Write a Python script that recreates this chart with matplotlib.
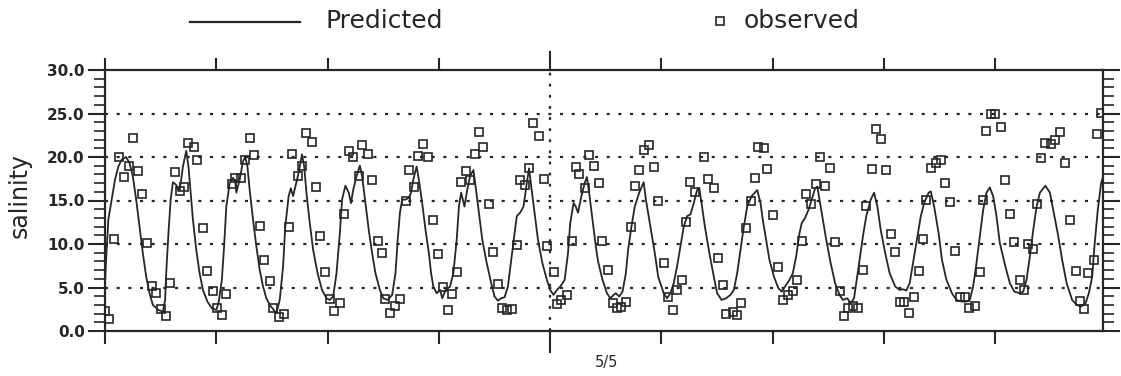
import matplotlib
matplotlib.use("Agg")
import matplotlib.pyplot as plt
from matplotlib.lines import Line2D
from matplotlib.ticker import MultipleLocator

plt.rcParams['lines.scale_dashes'] = False
plt.rcParams['font.family'] = ['DejaVu Sans']

# ---------------- data (x in days from start of record, 5/5 at day 4) -------------
pred_day = [0.00, 0.01, 0.03, 0.06, 0.09, 0.12, 0.15, 0.19, 0.22, 0.25, 0.28, 0.31, 0.34, 0.37, 0.40, 0.43,
            0.48, 0.52, 0.54, 0.55, 0.57, 0.59, 0.61, 0.64, 0.66, 0.68, 0.70, 0.73, 0.75, 0.77, 0.79, 0.82,
            0.85, 0.88, 0.92, 0.96, 1.00, 1.02, 1.05, 1.07, 1.09, 1.12, 1.15, 1.17, 1.18, 1.21, 1.24, 1.26,
            1.28, 1.30, 1.33, 1.36, 1.39, 1.42, 1.45, 1.48, 1.54, 1.57, 1.60, 1.62, 1.65, 1.67, 1.69, 1.71,
            1.74, 1.77, 1.79, 1.81, 1.84, 1.87, 1.91, 1.95, 1.99, 2.02, 2.05, 2.08, 2.11, 2.13, 2.16, 2.19,
            2.21, 2.23, 2.26, 2.29, 2.31, 2.34, 2.37, 2.40, 2.43, 2.47, 2.50, 2.54, 2.58, 2.61, 2.63, 2.65,
            2.67, 2.70, 2.73, 2.75, 2.77, 2.80, 2.82, 2.85, 2.88, 2.91, 2.93, 2.95, 2.98, 3.01, 3.03, 3.06,
            3.10, 3.13, 3.16, 3.18, 3.20, 3.23, 3.25, 3.28, 3.31, 3.33, 3.36, 3.39, 3.43, 3.47, 3.50, 3.53,
            3.56, 3.59, 3.62, 3.65, 3.68, 3.70, 3.73, 3.76, 3.79, 3.81, 3.83, 3.86, 3.89, 3.93, 3.97, 4.00,
            4.03, 4.06, 4.09, 4.13, 4.16, 4.18, 4.21, 4.23, 4.25, 4.28, 4.31, 4.33, 4.35, 4.38, 4.41, 4.43,
            4.47, 4.51, 4.54, 4.57, 4.59, 4.62, 4.65, 4.68, 4.70, 4.73, 4.76, 4.80, 4.84, 4.86, 4.90, 4.94,
            4.97, 5.02, 5.05, 5.08, 5.11, 5.14, 5.17, 5.20, 5.23, 5.26, 5.29, 5.32, 5.34, 5.36, 5.39, 5.43,
            5.47, 5.50, 5.54, 5.58, 5.62, 5.65, 5.68, 5.71, 5.74, 5.77, 5.81, 5.86, 5.89, 5.91, 5.94, 5.97,
            6.01, 6.05, 6.08, 6.11, 6.15, 6.18, 6.21, 6.24, 6.26, 6.29, 6.32, 6.35, 6.38, 6.40, 6.42, 6.45,
            6.48, 6.52, 6.56, 6.60, 6.63, 6.67, 6.70, 6.73, 6.75, 6.78, 6.81, 6.84, 6.88, 6.91, 6.94, 6.97,
            7.01, 7.05, 7.10, 7.14, 7.17, 7.20, 7.23, 7.26, 7.30, 7.33, 7.36, 7.40, 7.42, 7.45, 7.49, 7.52,
            7.56, 7.61, 7.65, 7.70, 7.74, 7.77, 7.80, 7.83, 7.86, 7.89, 7.92, 7.95, 7.98, 8.01, 8.04, 8.09,
            8.13, 8.17, 8.22, 8.25, 8.28, 8.31, 8.34, 8.37, 8.40, 8.45, 8.49, 8.52, 8.56, 8.60, 8.64, 8.69,
            8.73, 8.77, 8.81, 8.84, 8.87, 8.89, 8.92, 8.95, 8.98]
pred_sal = [5.5, 8.2, 12.8, 15.1, 17.4, 18.9, 19.7, 20.0, 19.3, 17.8, 15.1, 12.0, 8.95, 6.26, 4.34, 3.0,
            2.42, 2.23, 3.57, 6.64, 11.25, 15.1, 17.1, 16.8, 16.05, 17.0, 18.9, 20.7, 18.9, 15.9, 12.8, 9.33,
            6.64, 4.72, 3.38, 2.61, 2.42, 3.19, 5.88, 9.72, 14.3, 17.0, 17.6, 17.2, 15.9, 17.4, 19.5, 20.0,
            18.9, 16.2, 12.8, 9.72, 7.03, 5.11, 3.76, 3.0, 2.04, 3.57, 7.41, 12.0, 15.5, 16.4, 15.5, 16.6,
            18.2, 20.3, 18.9, 15.9, 12.4, 9.33, 6.64, 4.72, 3.76, 3.57, 3.96, 6.64, 11.25, 15.1, 16.7, 15.9,
            14.7, 16.2, 17.8, 19.0, 17.8, 14.7, 11.6, 8.95, 6.64, 4.72, 3.76, 3.57, 4.15, 6.64, 10.5, 13.6,
            15.1, 15.1, 15.3, 15.9, 17.4, 18.9, 17.4, 14.7, 11.6, 8.95, 6.64, 5.1, 4.34, 4.72, 3.76, 4.72,
            5.1, 6.64, 10.5, 14.3, 15.9, 14.3, 15.9, 17.8, 18.5, 16.6, 13.6, 10.5, 7.8, 5.5, 3.96, 3.49,
            3.76, 3.88, 5.1, 8.18, 11.25, 13.2, 13.6, 14.3, 17.0, 18.7, 16.6, 13.6, 10.5, 7.8, 5.88, 4.72,
            4.15, 4.72, 5.1, 5.88, 8.95, 12.4, 14.7, 14.3, 13.6, 15.5, 17.0, 17.7, 15.9, 12.8, 9.72, 8.0,
            5.88, 4.34, 3.76, 4.15, 4.34, 3.96, 4.53, 6.64, 9.33, 12.0, 14.3, 15.9, 17.1, 15.1, 12.0, 8.95,
            6.26, 4.34, 3.76, 4.34, 5.5, 7.41, 9.72, 12.0, 13.2, 13.4, 14.7, 16.2, 16.4, 14.7, 12.0, 8.95,
            6.26, 4.34, 3.57, 3.76, 4.15, 4.72, 6.64, 9.33, 12.0, 14.3, 15.5, 16.2, 14.7, 12.8, 10.5, 8.18,
            6.26, 4.92, 4.53, 5.1, 5.88, 6.64, 8.56, 11.25, 12.4, 13.0, 13.9, 15.1, 16.4, 16.6, 15.1, 12.8,
            10.5, 7.8, 5.5, 4.15, 3.57, 3.76, 3.19, 3.76, 5.5, 8.18, 10.9, 13.2, 15.1, 15.9, 14.3, 11.6,
            8.95, 6.64, 5.11, 4.72, 4.8, 4.65, 5.5, 7.8, 10.9, 13.2, 14.7, 15.9, 16.05, 14.3, 11.25, 8.18,
            5.88, 4.34, 3.57, 3.38, 3.38, 3.57, 5.11, 7.8, 10.9, 13.9, 15.9, 16.5, 15.5, 13.2, 10.1, 7.41,
            5.5, 4.53, 4.34, 4.53, 5.88, 8.56, 11.6, 14.3, 15.9, 16.7, 15.9, 13.9, 11.25, 8.18, 5.5, 3.57,
            3.0, 2.8, 3.19, 4.34, 6.26, 9.72, 13.9, 17.0, 18.2]

obs_day = [0.00, 0.04, 0.08, 0.13, 0.17, 0.22, 0.25, 0.30, 0.33, 0.38, 0.42, 0.46, 0.50, 0.55, 0.58, 0.63,
           0.67, 0.71, 0.75, 0.80, 0.83, 0.88, 0.92, 0.97, 1.01, 1.05, 1.09, 1.14, 1.17, 1.22, 1.26, 1.30,
           1.34, 1.39, 1.43, 1.48, 1.51, 1.56, 1.61, 1.65, 1.68, 1.73, 1.77, 1.81, 1.86, 1.90, 1.93, 1.98,
           2.02, 2.06, 2.11, 2.15, 2.19, 2.23, 2.28, 2.31, 2.36, 2.40, 2.45, 2.49, 2.52, 2.56, 2.61, 2.65,
           2.70, 2.73, 2.78, 2.81, 2.86, 2.90, 2.95, 2.99, 3.04, 3.08, 3.12, 3.16, 3.20, 3.24, 3.28, 3.32,
           3.36, 3.40, 3.45, 3.49, 3.53, 3.57, 3.61, 3.66, 3.70, 3.73, 3.77, 3.81, 3.85, 3.90, 3.94, 3.97,
           4.03, 4.06, 4.10, 4.15, 4.20, 4.23, 4.26, 4.31, 4.35, 4.39, 4.44, 4.47, 4.52, 4.56, 4.60, 4.64,
           4.68, 4.73, 4.76, 4.80, 4.84, 4.89, 4.93, 4.97, 5.02, 5.06, 5.10, 5.14, 5.18, 5.22, 5.26, 5.30,
           5.38, 5.42, 5.47, 5.51, 5.55, 5.58, 5.64, 5.68, 5.71, 5.76, 5.80, 5.84, 5.87, 5.92, 5.95, 6.00,
           6.05, 6.09, 6.14, 6.18, 6.22, 6.26, 6.30, 6.34, 6.39, 6.42, 6.47, 6.51, 6.56, 6.60, 6.64, 6.68,
           6.72, 6.77, 6.81, 6.84, 6.89, 6.93, 6.97, 7.02, 7.06, 7.10, 7.14, 7.18, 7.22, 7.27, 7.31, 7.35,
           7.38, 7.42, 7.47, 7.51, 7.55, 7.59, 7.64, 7.68, 7.73, 7.76, 7.82, 7.86, 7.89, 7.92, 7.96, 8.00,
           8.05, 8.09, 8.13, 8.17, 8.22, 8.26, 8.29, 8.34, 8.37, 8.41, 8.45, 8.50, 8.54, 8.58, 8.63, 8.67,
           8.72, 8.76, 8.80, 8.83, 8.89, 8.91, 8.95]
obs_sal = [2.34, 1.35, 10.6, 20.0, 17.7, 19.0, 22.2, 18.4, 15.7, 10.1, 5.15, 4.4, 2.5, 1.7, 5.5, 18.3,
           16.1, 16.6, 21.6, 21.1, 19.6, 11.8, 6.95, 4.6, 2.6, 1.8, 4.3, 16.9, 17.6, 17.6, 19.7, 22.2,
           20.2, 12.1, 8.2, 5.7, 2.65, 1.6, 2.0, 12.0, 20.3, 17.8, 19.0, 22.8, 21.7, 16.6, 10.9, 6.75,
           3.65, 2.3, 3.2, 13.4, 20.7, 20.0, 17.8, 21.4, 20.3, 17.3, 10.3, 8.95, 3.7, 2.1, 2.9, 3.7,
           14.9, 18.5, 16.6, 20.1, 21.5, 20.0, 12.8, 8.8, 5.1, 2.4, 4.3, 6.75, 17.1, 18.4, 17.3, 20.4,
           22.9, 21.1, 14.6, 9.1, 5.4, 2.7, 2.4, 2.5, 9.9, 17.4, 16.8, 18.7, 23.9, 22.4, 17.5, 9.75,
           6.75, 3.1, 3.6, 4.1, 10.4, 18.9, 18.05, 16.4, 20.2, 19.0, 17.0, 10.4, 7.0, 3.2, 2.7, 2.8,
           3.3, 11.9, 16.7, 18.5, 20.85, 21.4, 18.9, 14.9, 7.8, 3.9, 2.45, 4.7, 5.9, 12.5, 17.1, 16.0,
           20.0, 17.5, 16.4, 8.4, 5.3, 2.0, 2.15, 1.85, 3.2, 11.8, 14.9, 17.55, 21.2, 21.0, 18.6, 13.3,
           7.4, 3.6, 4.15, 4.65, 5.9, 10.4, 15.7, 14.6, 16.9, 20.0, 16.7, 18.7, 10.2, 4.65, 1.7, 2.7,
           2.9, 2.6, 7.0, 14.4, 18.6, 23.2, 22.1, 18.5, 11.2, 9.1, 3.3, 3.3, 2.1, 3.9, 6.95, 10.6,
           15.1, 18.7, 19.3, 19.7, 17.0, 14.8, 9.25, 3.9, 3.95, 2.7, 2.9, 6.8, 15.05, 23.0, 24.9, 24.95,
           23.4, 17.3, 13.5, 10.2, 5.9, 4.7, 10.0, 9.45, 14.6, 19.85, 21.6, 21.5, 22.0, 22.9, 19.3, 12.8,
           6.95, 3.5, 2.5, 6.65, 8.2, 22.7, 25.1]

x_tick_days = [0, 1, 2, 3, 4, 5, 6, 7, 8]
center_day = 4
center_label = "5/5"
center_label_pos = 4.51
y_ticks = [0, 5, 10, 15, 20, 25, 30]
y_tick_labels = ["0.0", "5.0", "10.0", "15.0", "20.0", "25.0", "30.0"]
grid_levels = [5, 10, 15, 20, 25]

INK = '#262626'

fig = plt.figure(figsize=(11.21, 3.76), dpi=100)
fig.patch.set_facecolor('white')
W, H = 1121.0, 376.0
ax = fig.add_axes([105 / W, 1 - 331 / H, (1103 - 105) / W, (331 - 70) / H])

ax.set_xlim(0, 8.967)
ax.set_ylim(0, 30)

# dotted grid lines
for g in grid_levels:
    ax.axhline(g, color=INK, lw=1.6, dashes=(2.2, 6.2), zorder=1)
ax.axvline(center_day, color=INK, lw=1.6, dashes=(2.0, 6.0), zorder=1)

ax.plot(pred_day, pred_sal, color=INK, lw=1.3, zorder=3, clip_on=True)
ax.plot(obs_day, obs_sal, linestyle='none', marker='s', ms=5.2, mew=1.2,
        mfc='none', mec=INK, zorder=4)

for s in ax.spines.values():
    s.set_linewidth(1.6)
    s.set_color(INK)

ax.set_yticks(y_ticks)
ax.set_yticklabels(y_tick_labels, fontsize=11, fontweight='bold', color=INK)
ax.yaxis.set_minor_locator(MultipleLocator(1))
ax.tick_params(axis='y', which='major', direction='out', length=12.5, width=1.5,
               left=True, right=True, labelleft=True, labelright=False, pad=2, color=INK)
ax.tick_params(axis='y', which='minor', direction='out', length=8, width=1.2,
               left=True, right=True, color=INK)

ax.set_xticks(x_tick_days)
ax.set_xticklabels([''] * len(x_tick_days))
ax.set_xticks([center_label_pos], [center_label], minor=True)
ax.tick_params(axis='x', which='major', direction='out', length=9, width=1.5,
               top=True, bottom=True, color=INK)
ax.tick_params(axis='x', which='minor', length=0, pad=17, labelsize=10.5, labelcolor=INK,
               top=False, bottom=True)
# longer tick at 5/5
mt = ax.xaxis.get_major_ticks()[x_tick_days.index(center_day)]
mt.tick1line.set_markersize(16)
mt.tick2line.set_markersize(14)

fig.text(20 / W, 1 - 196 / H, 'salinity', rotation=90, ha='center', va='center',
         fontsize=17, color=INK)

# legend (drawn manually to match layout)
fig.add_artist(Line2D([190 / W, 300 / W], [1 - 21.5 / H, 1 - 21.5 / H], color=INK, lw=1.6))
fig.text(325 / W, 1 - 21 / H, 'Predicted', ha='left', va='center', fontsize=18, color=INK)
fig.add_artist(Line2D([720 / W], [1 - 21 / H], marker='s', ms=5.2, mew=1.2, mfc='none',
                      mec=INK, linestyle='none'))
fig.text(744 / W, 1 - 21 / H, 'observed', ha='left', va='center', fontsize=18, color=INK)

fig.savefig('out.png', dpi=100, facecolor='white')
